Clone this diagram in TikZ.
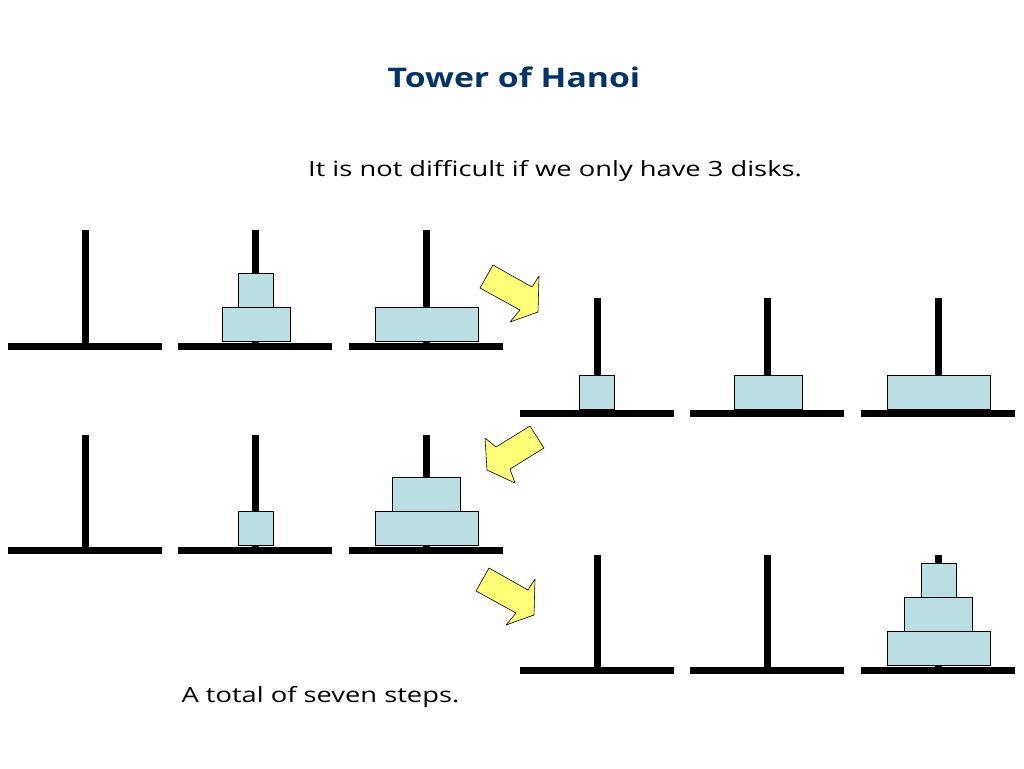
\documentclass[tikz,border=0pt]{standalone}
\usepackage{fontspec}
\setmainfont{Open Sans}
\definecolor{disk}{RGB}{186,222,226}
\definecolor{arr}{RGB}{255,255,120}
\definecolor{ttl}{RGB}{0,51,102}
\tikzset{x=1pt,y=-1pt,
 peg/.style={line width=7pt,black},
 diskbox/.style={draw=black,fill=disk,line width=0.6pt},
 bigarrow/.style={draw=black,fill=arr,line width=0.6pt,line join=round}}
\newcommand{\stand}[3]{% left x, base y, top y
 \draw[peg] (#1,#2) -- ++(154,0);
 \draw[peg] (#1+77,#2+3.5) -- (#1+77,#3);}
\newcommand{\dk}[3]{% center x, bottom y, width
 \draw[diskbox] (#1-#3/2,#2) rectangle (#1+#3/2,#2-34);}
\begin{document}
\begin{tikzpicture}
\useasboundingbox (0,0) rectangle (1024,768);
\node[text=ttl,font=\fontsize{27}{30}\selectfont\bfseries] (title) at (514,77) {\scalebox{1.25}[1]{Tower of Hanoi}};
\node[font=\fontsize{21}{24}\selectfont] (sub) at (555,171) {\scalebox{1.3}[1]{It is not difficult if we only have 3 disks.}};
\node[font=\fontsize{21}{24}\selectfont,anchor=west] (foot) at (178,697) {\scalebox{1.3}[1]{A total of seven steps.}};
% row 1
\stand{8}{346}{230}\stand{178}{346}{230}\stand{349}{346}{230}
\dk{256}{341}{68}\dk{256}{307}{35}\dk{426.5}{341}{103}
% row 2
\stand{520}{413}{298}\stand{690}{413}{298}\stand{861}{413}{298}
\dk{597}{409}{35}\dk{768}{409}{68}\dk{938.5}{409}{103}
% row 3
\stand{8}{550}{435}\stand{178}{550}{435}\stand{349}{550}{435}
\dk{256}{545}{35}\dk{426.5}{545}{103}\dk{426.5}{511}{68}
% row 4
\stand{520}{670}{555}\stand{690}{670}{555}\stand{861}{670}{555}
\dk{938.5}{665}{103}\dk{938.5}{631}{68}\dk{938.5}{597}{35}
% arrows
\draw[bigarrow] (493,265)--(532,287)--(539,276)--(538,312)--(510,322)--(520,310)--(480,288)--cycle;
\draw[bigarrow] (530,426)--(544,448)--(510,469)--(515,483)--(487,470)--(485,438)--(496,447)--cycle;
\begin{scope}[shift={(-4,303)}]
\draw[bigarrow] (493,265)--(532,287)--(539,276)--(538,312)--(510,322)--(520,310)--(480,288)--cycle;
\end{scope}
\end{tikzpicture}
\end{document}
